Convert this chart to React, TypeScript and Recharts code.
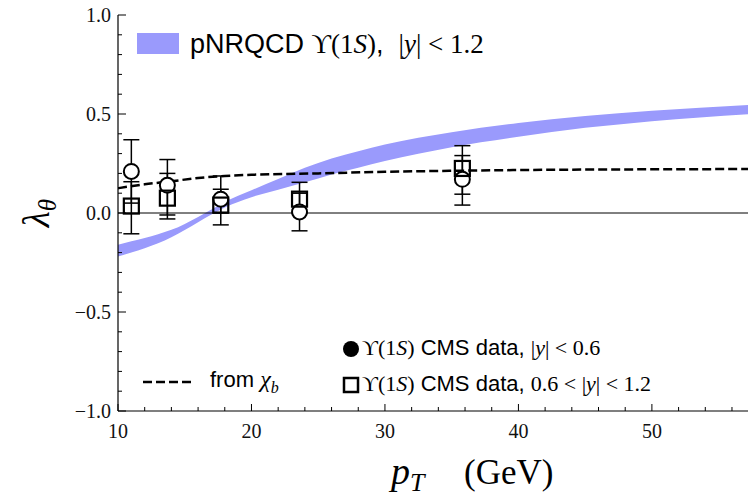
import {
  ComposedChart,
  Area,
  Line,
  Scatter,
  XAxis,
  YAxis,
  ReferenceLine,
  ErrorBar,
  Legend,
  Label,
} from "recharts";

// pNRQCD band (lower / upper edge of lambda_theta)
const bandPt = [10, 11, 12, 13, 14, 15, 16, 17, 18, 20, 22, 24, 26, 28, 30, 35, 40, 45, 50, 57.2];
const bandLow = [-0.22, -0.2, -0.178, -0.153, -0.122, -0.086, -0.047, -0.008, 0.028, 0.08, 0.118, 0.155, 0.195, 0.228, 0.262, 0.332, 0.385, 0.43, 0.464, 0.499];
const bandHigh = [-0.16, -0.143, -0.126, -0.107, -0.085, -0.055, -0.02, 0.018, 0.056, 0.115, 0.172, 0.228, 0.275, 0.312, 0.346, 0.408, 0.455, 0.49, 0.516, 0.545];

// feed-down from chi_b (dashed)
const chiPt = [10, 12, 14, 16, 18, 20, 25, 30, 35, 40, 47.5, 57.2];
const chiLam = [0.125, 0.145, 0.16, 0.177, 0.187, 0.193, 0.2, 0.208, 0.213, 0.217, 0.22, 0.222];

// CMS data |y| < 0.6 (circles)
const cmsPt = [11.0, 13.7, 17.7, 23.6, 35.8];
const circLam = [0.21, 0.14, 0.07, 0.005, 0.17];
const circLow = [0.05, -0.01, 0.0, -0.09, 0.04];
const circHigh = [0.37, 0.27, 0.12, 0.1, 0.29];

// CMS data 0.6 < |y| < 1.2 (squares)
const sqLam = [0.035, 0.075, 0.04, 0.07, 0.225];
const sqLow = [-0.105, -0.03, -0.06, 0.0, 0.095];
const sqHigh = [0.158, 0.2, 0.187, 0.155, 0.34];

const xTicks = [10, 12, 14, 16, 18, 20, 22, 24, 26, 28, 30, 32, 34, 36, 38, 40, 42, 44, 46, 48, 50, 52, 54, 56];
const yTicks = [-1, -0.9, -0.8, -0.7, -0.6, -0.5, -0.4, -0.3, -0.2, -0.1, 0, 0.1, 0.2, 0.3, 0.4, 0.5, 0.6, 0.7, 0.8, 0.9, 1];

const bandData = bandPt.map((pt, i) => ({ pt, range: [bandLow[i], bandHigh[i]] }));
const chiData = chiPt.map((pt, i) => ({ pt, lam: chiLam[i] }));
const circData = cmsPt.map((pt, i) => ({
  pt,
  lam: circLam[i],
  err: [circLam[i] - circLow[i], circHigh[i] - circLam[i]],
}));
const sqData = cmsPt.map((pt, i) => ({
  pt,
  lam: sqLam[i],
  err: [sqLam[i] - sqLow[i], sqHigh[i] - sqLam[i]],
}));

const serif = "'Liberation Serif', 'DejaVu Serif', serif";
const sans = "'Liberation Sans', 'DejaVu Sans', sans-serif";
const BAND = "#9a9afc";

const BottomTick = (props: any) => {
  const { x, y, payload } = props;
  const v = payload.value;
  const major = v % 10 === 0;
  return (
    <g>
      <line x1={x} x2={x} y1={y} y2={y - (major ? 7 : 4)} stroke='#000' strokeWidth={1} />
      {major && (
        <text x={x} y={y + 27} textAnchor='middle' fontFamily={serif} fontSize={20} fill='#111'>
          {v}
        </text>
      )}
    </g>
  );
};

const TopTick = (props: any) => {
  const { x, y, payload } = props;
  const major = payload.value % 10 === 0;
  return <line x1={x} x2={x} y1={y} y2={y + (major ? 7 : 4)} stroke='#000' strokeWidth={1} />;
};

const LeftTick = (props: any) => {
  const { x, y, payload } = props;
  const v = payload.value;
  const major = Math.abs(v * 2 - Math.round(v * 2)) < 1e-6;
  const txt = (v < 0 ? "\u2212" : "") + Math.abs(v).toFixed(1);
  return (
    <g>
      <line x1={x} x2={x + (major ? 8 : 4)} y1={y} y2={y} stroke='#000' strokeWidth={1} />
      {major && (
        <text x={x - 7} y={y} dy='0.35em' textAnchor='end' fontFamily={serif} fontSize={20} fill='#111'>
          {txt}
        </text>
      )}
    </g>
  );
};

const XTitle = () => (
  <text x={391} y={484} fontFamily={serif} fontSize={35} fill='#000'>
    <tspan fontStyle='italic' fontSize={38}>p</tspan>
    <tspan fontStyle='italic' fontSize={26} dy={7}>T</tspan>
    <tspan x={464} dy={-7}>(GeV)</tspan>
  </text>
);

const YTitle = () => (
  <text x={0} y={0} transform='translate(49 213) rotate(-90)' textAnchor='middle' fontFamily={serif} fontSize={37} fill='#000'>
    <tspan fontStyle='italic'>λ</tspan>
    <tspan fontStyle='italic' fontSize={25} dy={7}>θ</tspan>
  </text>
);

const Ups = () => (
  <span style={{ fontFamily: serif }}>
    ϒ(1<i>S</i>)
  </span>
);

const LegendBox = () => (
  <div style={{ position: "relative", width: 748, height: 498, color: "#000" }}>
    <div style={{ position: "absolute", left: 137, top: 33, width: 42, height: 21, background: BAND }} />
    <div style={{ position: "absolute", left: 190, top: 27, fontSize: 27, fontFamily: sans, whiteSpace: "nowrap", lineHeight: "34px" }}>
      pNRQCD <Ups />,{"\u00a0\u00a0"}
      <span style={{ fontFamily: serif }}>
        |<i>y</i>| &lt; 1.2
      </span>
    </div>

    <svg style={{ position: "absolute", left: 341, top: 337 }} width={20} height={60}>
      <circle cx={10} cy={12} r={8} fill='#000' />
      <rect x={3} y={41} width={14} height={14} fill='none' stroke='#000' strokeWidth={2.5} />
    </svg>
    <div style={{ position: "absolute", left: 362, top: 333, fontSize: 22, fontFamily: sans, whiteSpace: "nowrap", lineHeight: "30px" }}>
      <Ups /> CMS data,{" "}
      <span style={{ fontFamily: serif }}>
        |<i>y</i>| &lt; 0.6
      </span>
    </div>
    <div style={{ position: "absolute", left: 362, top: 369, fontSize: 22, fontFamily: sans, whiteSpace: "nowrap", lineHeight: "30px" }}>
      <Ups /> CMS data,{" "}
      <span style={{ fontFamily: serif }}>
        0.6 &lt; |<i>y</i>| &lt; 1.2
      </span>
    </div>

    <svg style={{ position: "absolute", left: 140, top: 375 }} width={60} height={14}>
      <line x1={3} x2={52} y1={7} y2={7} stroke='#000' strokeWidth={2.5} strokeDasharray='9 4' />
    </svg>
    <div style={{ position: "absolute", left: 210, top: 364, fontSize: 22, fontFamily: sans, whiteSpace: "nowrap", lineHeight: "30px" }}>
      from{" "}
      <span style={{ fontFamily: serif, fontStyle: "italic", fontSize: 24 }}>
        χ<sub style={{ fontSize: 16 }}>b</sub>
      </span>
    </div>
  </div>
);

export default function App() {
  return (
    <div style={{ position: "absolute", left: 0, top: 0, width: 748, height: 498, background: "#fff" }}>
      <ComposedChart width={748} height={498} margin={{ top: 15, right: 0, bottom: 0, left: 0 }}>
        <XAxis
          dataKey='pt'
          type='number'
          domain={[10, 57.2]}
          ticks={xTicks}
          height={87}
          tickSize={0}
          tickMargin={0}
          tickLine={false}
          tick={<BottomTick />}
          axisLine={{ stroke: "#000", strokeWidth: 1.2 }}
          allowDataOverflow
          interval={0}
        >
          <Label content={<XTitle />} />
        </XAxis>
        <XAxis
          xAxisId='top'
          orientation='top'
          dataKey='pt'
          type='number'
          domain={[10, 57.2]}
          ticks={xTicks}
          height={0}
          tickSize={0}
          tickMargin={0}
          tickLine={false}
          tick={<TopTick />}
          axisLine={{ stroke: "#000", strokeWidth: 1.2 }}
          allowDataOverflow
          interval={0}
        />
        <YAxis
          type='number'
          domain={[-1, 1]}
          ticks={yTicks}
          width={118}
          tickSize={0}
          tickMargin={0}
          tickLine={false}
          tick={<LeftTick />}
          axisLine={{ stroke: "#000", strokeWidth: 1.2 }}
          allowDataOverflow
          interval={0}
        >
          <Label content={<YTitle />} />
        </YAxis>

        <Area
          data={bandData}
          dataKey='range'
          type='monotone'
          fill={BAND}
          fillOpacity={1}
          stroke='none'
          isAnimationActive={false}
        />
        <ReferenceLine y={0} stroke='#000' strokeWidth={1} />
        <Line
          data={chiData}
          dataKey='lam'
          type='monotone'
          stroke='#000'
          strokeWidth={2.5}
          strokeDasharray='9 4'
          dot={false}
          isAnimationActive={false}
        />
        <Scatter
          data={circData}
          dataKey='lam'
          isAnimationActive={false}
          shape={(p: any) => (
            <circle cx={p.cx} cy={p.cy} r={7.5} fill='#fff' stroke='#000' strokeWidth={2} />
          )}
        >
          <ErrorBar dataKey='err' direction='y' width={8} stroke='#000' strokeWidth={1.5} />
        </Scatter>
        <Scatter
          data={sqData}
          dataKey='lam'
          isAnimationActive={false}
          shape={(p: any) => (
            <rect x={p.cx - 7.5} y={p.cy - 7.5} width={15} height={15} fill='none' stroke='#000' strokeWidth={2.2} />
          )}
        >
          <ErrorBar dataKey='err' direction='y' width={8} stroke='#000' strokeWidth={1.5} />
        </Scatter>

        <Legend
          layout='horizontal'
          verticalAlign='middle'
          align='center'
          content={() => <LegendBox />}
          wrapperStyle={{ left: 0, top: 0, width: 748, height: 498 }}
        />
      </ComposedChart>
    </div>
  );
}
